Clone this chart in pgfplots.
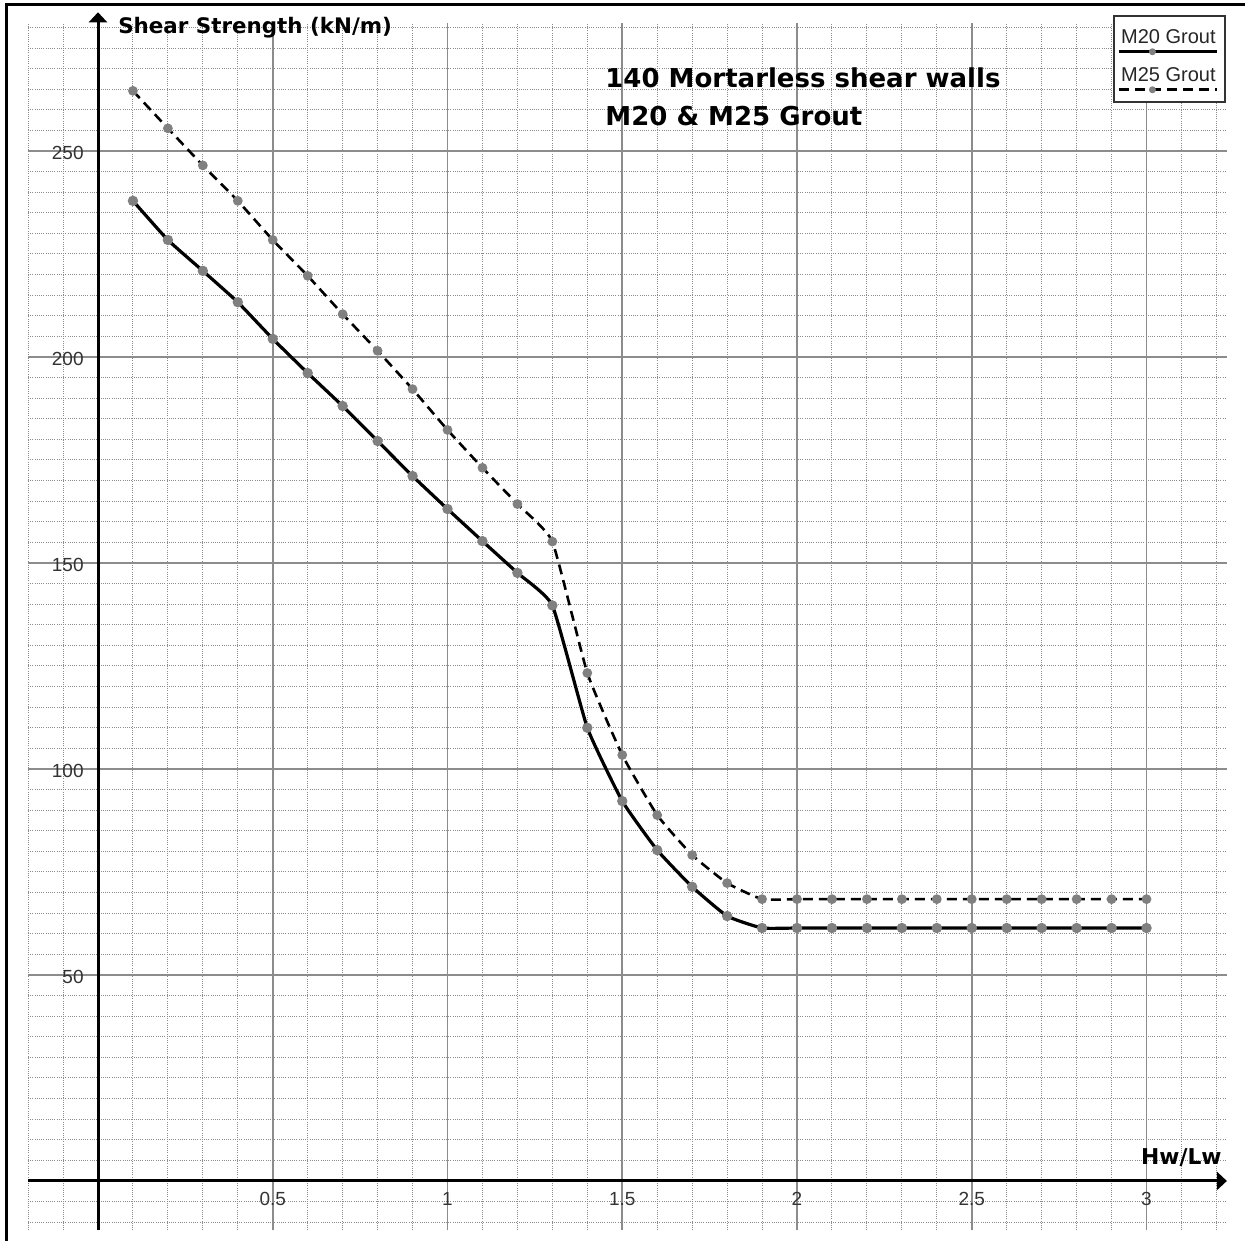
\documentclass[border=0pt]{standalone}
\usepackage{pgfplots}
\pgfplotsset{compat=1.18}
\usepackage{fontspec}
\setmainfont{Liberation Sans}
\newfontfamily\djb{DejaVu Sans}
\usetikzlibrary{arrows.meta}
\definecolor{gridmaj}{RGB}{140,140,140}
\definecolor{gridmin}{RGB}{140,140,140}
\definecolor{markgray}{RGB}{128,128,128}
\begin{document}
\begin{tikzpicture}
\useasboundingbox (-14.05bp,-5.3bp) rectangle (608.45bp,615.2bp);
\fill[white] (-14.05bp,-5.3bp) rectangle (608.45bp,615.2bp);
\begin{axis}[
  at={(0,0)}, anchor=south west,
  scale only axis, width=599.4bp, height=603.55bp,
  xmin=-0.2, xmax=3.23, ymin=-12, ymax=281,
  enlargelimits=false, clip=false,
  axis lines=middle,
  axis line style={line width=1.5bp, black},
  every inner x axis line/.append style={-{Triangle[length=5bp,width=9bp]}},
  every inner y axis line/.append style={-{Triangle[length=5bp,width=9bp]}, shorten >=-5.5bp},
  xtick={0.5,1,1.5,2,2.5,3},
  ytick={50,100,150,200,250},
  minor xtick={-0.2,-0.1,...,3.25},
  minor ytick={-10,-5,...,280},
  grid=both,
  major grid style={gridmaj, line width=0.8bp},
  minor grid style={gridmin, line width=0.5bp, dash pattern=on 0.5bp off 0.6bp},
  major tick length=0pt, minor tick length=0pt,
  tick style={draw=none},
  /pgf/number format/assume math mode=true,
  ticklabel style={font=\fontsize{9.5bp}{11bp}\selectfont, text=black!80, inner sep=0pt},
  xticklabel style={anchor=north, yshift=-5.5bp},
  yticklabel style={anchor=east, xshift=-7bp, yshift=-1bp},
  legend style={at={(0.905,1.0069)}, anchor=north west, draw=black!80, line width=0.8bp, fill=white,
    inner xsep=2bp, inner ysep=2.5bp, row sep=0pt, column sep=0pt, nodes={inner sep=0pt}},
]
\addplot[black, line width=1.6bp, smooth, tension=0.25,
  mark=*, mark size=1.75bp, mark options={fill=markgray, draw=markgray, solid},
  legend image code/.code={
    \path[draw=none, fill=none] (0bp,-7.5bp) rectangle (49bp,11.5bp);
    \node[draw=none, fill=none, anchor=base, inner sep=0pt, font=\fontsize{10bp}{12bp}\selectfont, text=black!85] at (24.5bp,0bp) {M20 Grout};
    \draw[black, solid, line width=1.6bp] (0bp,-4bp) -- (49bp,-4bp);
    \fill[markgray, draw=none] (16.5bp,-4bp) circle[radius=1.75bp];
  }] coordinates {
(0.1,237.9)(0.2,228.4)(0.3,220.9)(0.4,213.3)(0.5,204.4)(0.6,196.1)(0.7,188.1)(0.8,179.6)(0.9,171.1)(1.0,163.1)
(1.1,155.3)(1.2,147.6)(1.3,139.7)(1.4,110.0)(1.5,92.2)(1.6,80.3)(1.7,71.4)(1.8,64.3)(1.9,61.4)(2.0,61.4)
(2.1,61.4)(2.2,61.4)(2.3,61.4)(2.4,61.4)(2.5,61.4)(2.6,61.4)(2.7,61.4)(2.8,61.4)(2.9,61.4)(3.0,61.4)
};
\addlegendentry{\hbox{}}
\addplot[black, line width=1.3bp, dash pattern=on 5bp off 3bp, smooth, tension=0.25,
  mark=*, mark size=1.75bp, mark options={fill=markgray, draw=markgray, solid},
  legend image code/.code={
    \path[draw=none, fill=none] (0bp,-7.5bp) rectangle (49bp,11.5bp);
    \node[draw=none, fill=none, anchor=base, inner sep=0pt, font=\fontsize{10bp}{12bp}\selectfont, text=black!85] at (24.5bp,0bp) {M25 Grout};
    \draw[black, line width=1.3bp, dash pattern=on 5bp off 3bp] (0bp,-4bp) -- (49bp,-4bp);
    \fill[markgray, draw=none] (16.5bp,-4bp) circle[radius=1.75bp];
  }] coordinates {
(0.1,264.6)(0.2,255.5)(0.3,246.5)(0.4,237.9)(0.5,228.4)(0.6,219.7)(0.7,210.4)(0.8,201.5)(0.9,192.2)(1.0,182.3)
(1.1,173.1)(1.2,164.3)(1.3,155.2)(1.4,123.3)(1.5,103.4)(1.6,88.8)(1.7,79.1)(1.8,72.3)(1.9,68.4)(2.0,68.4)
(2.1,68.4)(2.2,68.4)(2.3,68.4)(2.4,68.4)(2.5,68.4)(2.6,68.4)(2.7,68.4)(2.8,68.4)(2.9,68.4)(3.0,68.4)
};
\addlegendentry{\hbox{}}
\node[anchor=base west, inner sep=0pt, font=\djb\bfseries\fontsize{10.7bp}{12bp}\selectfont] at (axis cs:0.057,278.6) {Shear Strength (kN/m)};
\node[anchor=base east, inner sep=0pt, font=\djb\bfseries\fontsize{10.9bp}{12bp}\selectfont] at (axis cs:3.216,3.88) {Hw/Lw};
\node[anchor=base west, inner sep=0pt, font=\djb\bfseries\fontsize{13bp}{15bp}\selectfont] at (axis cs:1.4506,265.5) {140 Mortarless shear walls};
\node[anchor=base west, inner sep=0pt, font=\djb\bfseries\fontsize{13bp}{15bp}\selectfont] at (axis cs:1.4506,256.3) {M20 \& M25 Grout};
\end{axis}
\draw[line width=1.5bp, black] (-10.55bp,-5.3bp) -- (-10.55bp,612.7bp) -- (608.45bp,612.7bp);
\end{tikzpicture}
\end{document}
